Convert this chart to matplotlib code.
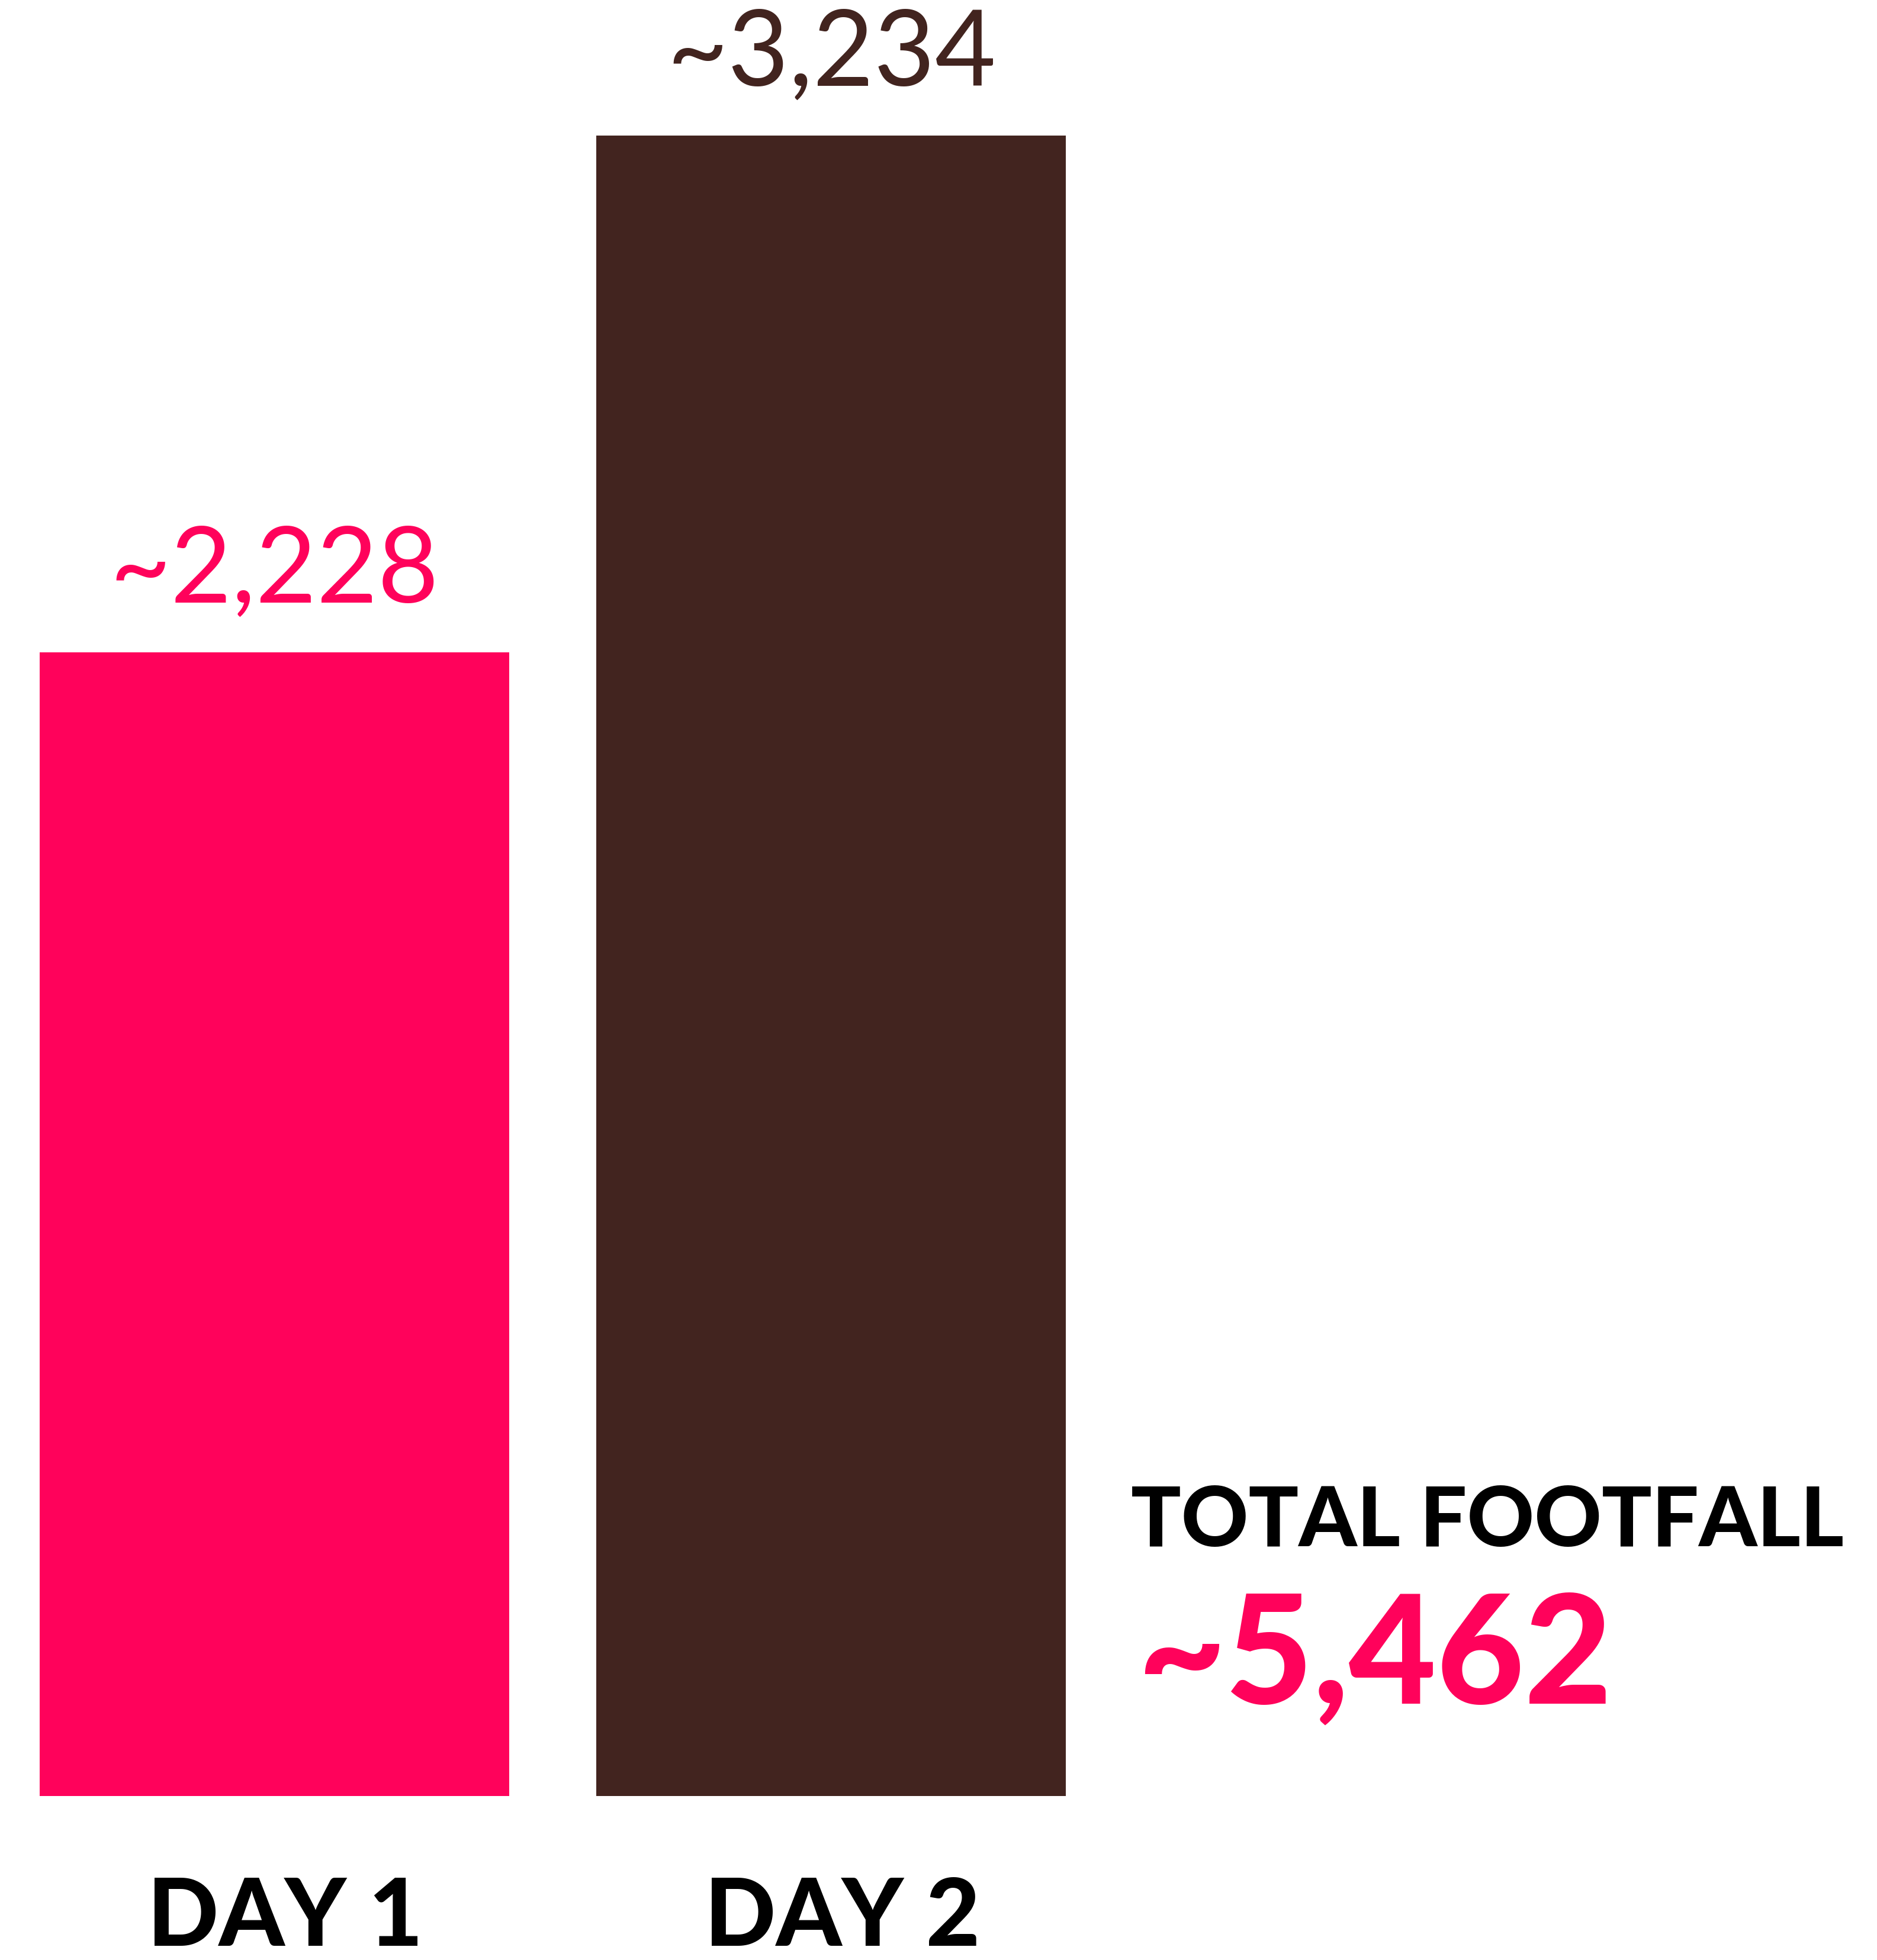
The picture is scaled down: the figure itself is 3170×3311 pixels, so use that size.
import matplotlib
matplotlib.use("Agg")
import matplotlib.pyplot as plt
import matplotlib.transforms as mtransforms

# ---- data ----
categories = ["DAY 1", "DAY 2"]
values = [2228, 3234]
value_labels = ["~2,228", "~3,234"]
total_title = "TOTAL FOOTFALL"
total_label = "~5,462"

PINK = "#FF025B"
BROWN = "#42241F"
bar_colors = [PINK, BROWN]
label_colors = [PINK, BROWN]

W, H, DPI = 3170, 3311, 100
fig = plt.figure(figsize=(W / DPI, H / DPI), dpi=DPI, facecolor="white")
ax = fig.add_axes([0, 0, 1, 1])
ax.set_axis_off()

px_per_unit = 0.8673
bar_bottom_px = 3034
ax.set_ylim(-(H - bar_bottom_px) / px_per_unit, bar_bottom_px / px_per_unit)
spacing = 941.0
ax.set_xlim(-463 / spacing, (W - 463) / spacing)

x = list(range(len(categories)))
ax.bar(x, values, width=793 / spacing, color=bar_colors, linewidth=0)

light = dict(family=["Lato", "DejaVu Sans"], weight="normal")
heavy = dict(family=["Lato", "DejaVu Sans"], weight="black")

for xi, v, lab, c in zip(x, values, value_labels, label_colors):
    ax.annotate(lab, xy=(xi, v), xytext=(0, 60.5), textcoords="offset points",
                ha="center", va="baseline", color=c, fontsize=128, **light)

trans = mtransforms.blended_transform_factory(ax.transData, ax.transAxes)
for xi, cat in zip(x, categories):
    ax.text(xi + 0.02, 24 / H, cat, transform=trans, ha="center", va="baseline",
            color="black", fontsize=114, **heavy)

fig.text(1910 / W, 699 / H, total_title, ha="left", va="baseline",
         color="black", fontsize=101, **heavy)
fig.text(1921 / W, 433 / H, total_label, ha="left", va="baseline",
         color=PINK, fontsize=184, **heavy)

fig.savefig("out.png", dpi=DPI, facecolor="white")
